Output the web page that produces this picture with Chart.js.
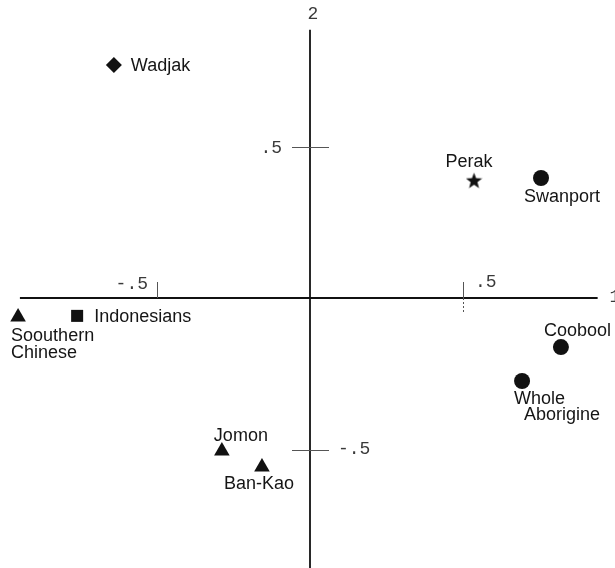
<!DOCTYPE html>
<html>
<head>
<meta charset="utf-8">
<script src="https://cdn.jsdelivr.net/npm/chart.js@4/dist/chart.umd.min.js"></script>
<style>
  html, body { margin: 0; padding: 0; background: #fff; }
  #wrap { width: 615px; height: 568px; }
</style>
</head>
<body>
<div id="wrap"><canvas id="c" width="615" height="568"></canvas></div>
<script>
// Group scores on the first two canonical axes
const groups  = ['Wadjak', 'Perak', 'Swanport', 'Indonesians', 'Soouthern Chinese', 'Coobool', 'Whole Aborigine', 'Jomon', 'Ban-Kao'];
const axis1   = [-0.641, 0.536, 0.755, -0.761, -0.954, 0.820, 0.693, -0.288, -0.157];
const axis2   = [ 0.769, 0.389, 0.396, -0.059, -0.063, -0.162, -0.274, -0.505, -0.558];
const markers = ['diamond', 'star', 'circle', 'square', 'triangle', 'circle', 'circle', 'triangle', 'triangle'];

// Axis ticks
const xTickValues = [-0.5, 0.5];
const xTickLabels = ['-.5', '.5'];
const yTickValues = [0.5, -0.5];
const yTickLabels = ['.5', '-.5'];
const axisTitles  = ['1', '2'];

// Text lines and their placement around each marker
const labelLines = {
  'Soouthern Chinese': ['Soouthern', 'Chinese'],
  'Whole Aborigine': ['Whole', 'Aborigine']
};
const labelPlacement = {
  'Wadjak':            [{dx: 17, dy: 1, align: 'left'}],
  'Perak':             [{dx: -5, dy: -18, align: 'center'}],
  'Swanport':          [{dx: -17, dy: 19, align: 'left'}],
  'Indonesians':       [{dx: 17, dy: 1, align: 'left'}],
  'Soouthern Chinese': [{dx: -7, dy: 19, align: 'left'}, {dx: -7, dy: 36, align: 'left'}],
  'Coobool':           [{dx: -17, dy: -16, align: 'left'}],
  'Whole Aborigine':   [{dx: -8, dy: 18, align: 'left'}, {dx: 2, dy: 34, align: 'left'}],
  'Jomon':             [{dx: -8, dy: -15, align: 'left'}],
  'Ban-Kao':           [{dx: -38, dy: 17, align: 'left'}]
};

// A filled five-pointed star used as a marker image
function makeStar(size) {
  const cv = document.createElement('canvas');
  cv.width = size; cv.height = size;
  const g = cv.getContext('2d');
  const cx = size / 2, cy = size / 2 + 1, ro = size / 2, ri = ro * 0.42;
  g.beginPath();
  for (let i = 0; i < 10; i++) {
    const r = i % 2 === 0 ? ro : ri;
    const a = -Math.PI / 2 + i * Math.PI / 5;
    const px = cx + r * Math.cos(a), py = cy + r * Math.sin(a);
    if (i === 0) g.moveTo(px, py); else g.lineTo(px, py);
  }
  g.closePath();
  g.fillStyle = '#111';
  g.fill();
  return cv;
}
const starImg = makeStar(17);

const styleMap = {
  diamond:  {style: 'rectRot', radius: 8},
  star:     {style: starImg,   radius: 8},
  circle:   {style: 'circle',  radius: 8},
  square:   {style: 'rect',    radius: 8.5},
  triangle: {style: 'triangle', radius: 9}
};

const points = groups.map((g, i) => ({x: axis1[i], y: axis2[i]}));

// Cross-shaped axes through the origin, with hand-placed ticks
const originAxes = {
  id: 'originAxes',
  beforeDatasetsDraw(chart) {
    const {ctx, scales: {x, y}} = chart;
    const x0 = x.getPixelForValue(0), y0 = y.getPixelForValue(0);
    ctx.save();
    ctx.strokeStyle = '#111';
    ctx.lineWidth = 1.8;
    ctx.beginPath();
    ctx.moveTo(x.getPixelForValue(-0.948), y0);
    ctx.lineTo(x.getPixelForValue(0.94), y0);
    ctx.stroke();
    ctx.beginPath();
    ctx.moveTo(x0, y.getPixelForValue(0.885));
    ctx.lineTo(x0, 568);
    ctx.stroke();

    // x ticks
    ctx.lineWidth = 1;
    ctx.strokeStyle = '#555';
    xTickValues.forEach((v, i) => {
      const px = Math.round(x.getPixelForValue(v)) + 0.5;
      ctx.setLineDash([]);
      ctx.beginPath();
      ctx.moveTo(px, y0 - 16);
      ctx.lineTo(px, y0);
      ctx.stroke();
      if (v > 0) {
        ctx.setLineDash([2, 2]);
        ctx.beginPath();
        ctx.moveTo(px, y0);
        ctx.lineTo(px, y0 + 16);
        ctx.stroke();
      }
    });
    ctx.setLineDash([]);
    // y ticks
    yTickValues.forEach(v => {
      const py = Math.round(y.getPixelForValue(v)) + 0.5;
      ctx.beginPath();
      ctx.moveTo(x0 - 18, py);
      ctx.lineTo(x0 + 19, py);
      ctx.stroke();
    });

    ctx.fillStyle = '#3a3a3a';
    ctx.font = '18px "Liberation Mono", "DejaVu Sans Mono", monospace';
    ctx.textBaseline = 'middle';
    xTickValues.forEach((v, i) => {
      const px = x.getPixelForValue(v);
      if (v < 0) { ctx.textAlign = 'right'; ctx.fillText(xTickLabels[i], px - 9, y0 - 14); }
      else { ctx.textAlign = 'left'; ctx.fillText(xTickLabels[i], px + 12, y0 - 16); }
    });
    yTickValues.forEach((v, i) => {
      const py = y.getPixelForValue(v);
      if (v > 0) { ctx.textAlign = 'right'; ctx.fillText(yTickLabels[i], x0 - 28, py + 2); }
      else { ctx.textAlign = 'left'; ctx.fillText(yTickLabels[i], x0 + 28, py); }
    });
    // axis titles
    ctx.textAlign = 'center';
    ctx.fillText(axisTitles[0], 615, y0 - 1);
    ctx.fillText(axisTitles[1], x0 + 3, 14);
    ctx.restore();
  }
};

// Group names beside their markers
const groupLabels = {
  id: 'groupLabels',
  afterDatasetsDraw(chart) {
    const {ctx} = chart;
    const meta = chart.getDatasetMeta(0);
    ctx.save();
    ctx.fillStyle = '#151515';
    ctx.font = '18px "Liberation Sans", Arial, sans-serif';
    ctx.textBaseline = 'middle';
    meta.data.forEach((el, i) => {
      const name = groups[i];
      const lines = labelLines[name] || [name];
      const place = labelPlacement[name];
      lines.forEach((t, j) => {
        const p = place[j];
        ctx.textAlign = p.align;
        ctx.fillText(t, el.x + p.dx, el.y + p.dy);
      });
    });
    ctx.restore();
  }
};

new Chart(document.getElementById('c'), {
  type: 'scatter',
  data: {
    datasets: [{
      data: points,
      pointStyle: markers.map(m => styleMap[m].style),
      pointRadius: markers.map(m => styleMap[m].radius),
      pointHoverRadius: markers.map(m => styleMap[m].radius),
      backgroundColor: '#111',
      borderColor: '#111',
      borderWidth: 0
    }]
  },
  options: {
    responsive: false,
    animation: false,
    events: [],
    layout: {padding: 0, autoPadding: false},
    clip: false,
    plugins: {legend: {display: false}, tooltip: {enabled: false}},
    scales: {
      x: {type: 'linear', display: false, min: -310 / 306, max: 305 / 306},
      y: {type: 'linear', display: false, min: -270 / 303, max: 298 / 303}
    }
  },
  plugins: [originAxes, groupLabels]
});
</script>
</body>
</html>
